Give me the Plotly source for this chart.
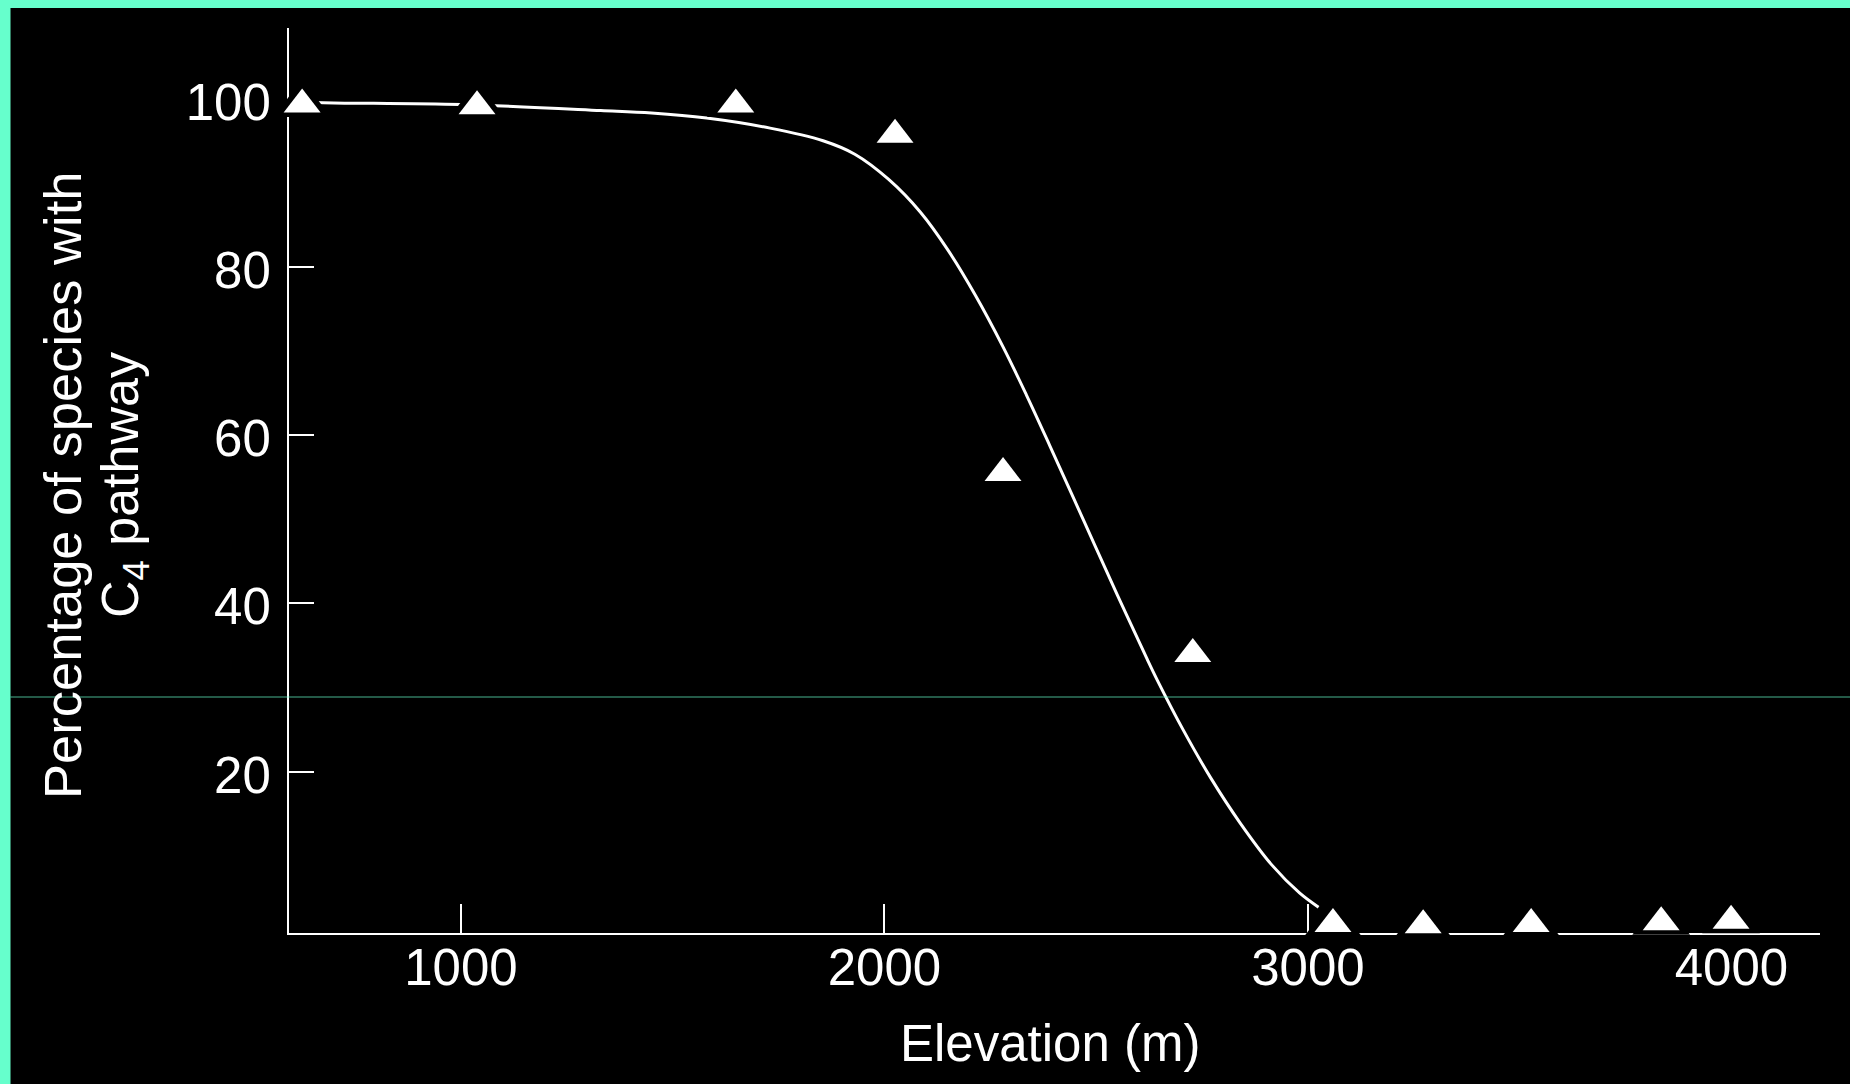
import plotly.graph_objects as go

# Observed C4 share of grass species along the elevation gradient
elevation_m = [625, 1038, 1649, 2025, 2280, 2728, 3059, 3272, 3527, 3834, 3999]
pct_c4 = [99.3, 99.1, 99.3, 95.7, 55.5, 34.0, 1.9, 1.75, 1.9, 2.1, 2.3]

# Fitted trend line
fit_elev = [600, 700, 1000, 1330, 1450, 1580, 1730, 1855, 1930, 2010, 2085, 2150,
            2215, 2280, 2335, 2390, 2470, 2550, 2620, 2645, 2705, 2770, 2840,
            2915, 2980, 3025]
fit_pct = [99.6, 99.5, 99.3, 98.6, 98.3, 97.7, 96.5, 95.0, 93.4, 90.4, 86.5, 82.0,
           76.6, 70.5, 64.8, 58.8, 49.9, 41.0, 33.4, 30.8, 25.0, 19.3, 13.9,
           8.9, 5.6, 3.9]

x_ticks = [1000, 2000, 3000, 4000]
y_ticks = [20, 40, 60, 80, 100]

x_title = "Elevation (m)"
y_title_1 = "Percentage of species with"
y_title_2 = "C<sub>4</sub> pathway"

W, H = 1850, 1084
L, R, T, B = 289, 30, 28, 151
PW, PH = W - L - R, H - T - B

FONT = "Liberation Sans, Arial, Helvetica, sans-serif"
FS = 51
TEAL = "#66FFCC"


def px_x(px):
    return (px - L) / PW


def px_y(py):
    return (H - B - py) / PH


fig = go.Figure()

# trend line
fig.add_trace(go.Scatter(
    x=fit_elev, y=fit_pct, mode="lines", line_shape="spline",
    line=dict(color="white", width=3), hoverinfo="skip",
))

# black halo so the line and axes break around each marker
fig.add_trace(go.Scatter(
    x=elevation_m, y=pct_c4, mode="markers", cliponaxis=False,
    marker=dict(symbol="triangle-up", size=50, color="black", line=dict(width=0)),
    hoverinfo="skip",
))
# white triangles
fig.add_trace(go.Scatter(
    x=elevation_m, y=pct_c4, mode="markers", cliponaxis=False,
    marker=dict(symbol="triangle-up", size=32, color="white", line=dict(width=0)),
))

axis_common = dict(
    showgrid=False, zeroline=False, showline=True, linecolor="white", linewidth=2,
    ticks="inside", tickcolor="white", tickwidth=2, layer="below traces",
    tickfont=dict(family=FONT, size=FS, color="white"), fixedrange=True,
)

fig.update_xaxes(range=[594, 4209], tickvals=x_ticks, ticklen=29,
                 ticklabelstandoff=-11, **axis_common)
fig.update_yaxes(range=[0.83, 108.4], tickvals=y_ticks, ticklen=25,
                 ticklabelstandoff=6, ticklabelshift=3, **axis_common)

annotations = [
    dict(text=x_title, x=px_x(1050), y=px_y(1043), xref="paper", yref="paper",
         xanchor="center", yanchor="middle", showarrow=False,
         font=dict(family=FONT, size=FS, color="white")),
    dict(text=y_title_1, x=px_x(62), y=px_y(486), xref="paper", yref="paper",
         xanchor="center", yanchor="middle", textangle=-90, showarrow=False,
         font=dict(family=FONT, size=52.5, color="white")),
    dict(text=y_title_2, x=px_x(124), y=px_y(485), xref="paper", yref="paper",
         xanchor="center", yanchor="middle", textangle=-90, showarrow=False,
         font=dict(family=FONT, size=52, color="white")),
]

shapes = [
    # frame strips along the top and left edges
    dict(type="rect", xref="paper", yref="paper", layer="above",
         x0=px_x(0), x1=px_x(W), y0=px_y(8), y1=px_y(0),
         fillcolor=TEAL, line=dict(width=0)),
    dict(type="rect", xref="paper", yref="paper", layer="above",
         x0=px_x(0), x1=px_x(10.5), y0=px_y(H), y1=px_y(0),
         fillcolor=TEAL, line=dict(width=0)),
    # thin scan line across the page
    dict(type="line", xref="paper", yref="paper", layer="above",
         x0=px_x(10.5), x1=px_x(W), y0=px_y(697), y1=px_y(697),
         line=dict(color="rgba(102,255,204,0.7)", width=1)),
]

fig.update_layout(
    width=W, height=H,
    margin=dict(l=L, r=R, t=T, b=B, pad=0),
    paper_bgcolor="black", plot_bgcolor="black",
    showlegend=False, hovermode=False,
    annotations=annotations, shapes=shapes,
)

fig.write_html("out.html", config={"displayModeBar": False})
